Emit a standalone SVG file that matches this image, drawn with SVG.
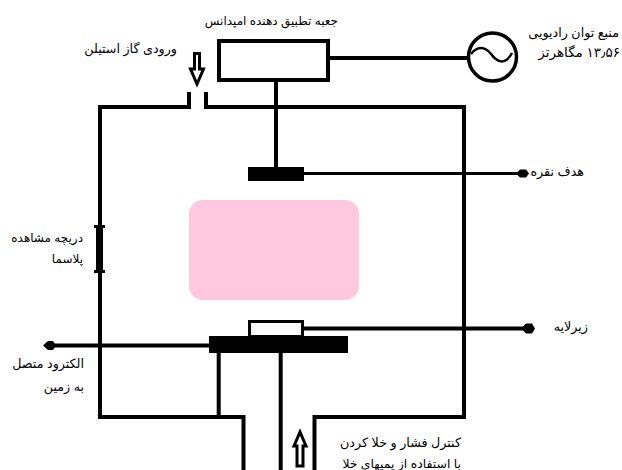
<svg xmlns="http://www.w3.org/2000/svg" width="622" height="470" viewBox="0 0 622 470">
<style>
.l{fill:none;stroke:#000;stroke-width:3}
.w{fill:none;stroke:#000;stroke-width:4}
.k{fill:#000;stroke:none}
text{font-family:"Liberation Sans","DejaVu Sans",sans-serif;font-size:12.700px;fill:#000;direction:rtl;text-anchor:start}
</style>
<rect width="622" height="470" fill="#fff"/>
<g id="plasma"><rect x="189" y="200" width="170" height="100" rx="14" fill="#ffc8dc"/></g>
<g id="connectors">
<path class="w" d="M189 92V107H100V417H243.500V470"/>
<path class="w" d="M206 92V107H464V417H314.500V470"/>
<path class="w" d="M330 58H468"/>
<path class="w" d="M276 80V167"/>
<path class="l" d="M304 173.500H518"/>
<path class="w" d="M303 328.500H524"/>
<path class="w" d="M50 345.500H209"/>
<path class="w" d="M218.700 353V417"/>
<path class="w" d="M280.700 353V470"/>
</g>
<g id="matching-box"><rect x="219" y="41" width="109" height="39" fill="#fff" stroke="#000" stroke-width="4"/><text x="338" y="25" style="font-size:12px">جعبه تطبیق دهنده امپدانس</text></g>
<g id="rf-source"><circle cx="492.500" cy="57" r="24" fill="#fff" stroke="#000" stroke-width="3.500"/><path d="M471 54C477 46 485 46 491 54S505 66 512 53" fill="none" stroke="#000" stroke-width="2.500"/><text x="619" y="37">منبع توان رادیویی</text><text x="620" y="57" style="font-size:13.500px">۱۳٫۵۶ مگاهرتز</text></g>
<g id="gas-inlet"><path d="M194.500 53.500H199.500V69H203.500L197 84L190.500 69H194.500Z" fill="#fff" stroke="#000" stroke-width="3"/><text x="177" y="53">ورودی گاز استیلن</text></g>
<g id="target"><rect class="k" x="248" y="167" width="56" height="14"/><path class="k" d="M516 173.500L520 169.500H526L529 173.500L526 177.500H520Z"/><text x="584" y="176">هدف نقره</text></g>
<g id="window"><path class="k" d="M94 225H105V228H103V270H105V273H94V270H96V228H94Z"/><text x="83" y="242" style="font-size:12px">دریچه مشاهده</text><text x="83" y="263" style="font-size:12px">پلاسما</text></g>
<g id="electrode"><rect class="k" x="209" y="336" width="139" height="17"/><path class="k" d="M43 345.500L48 341H53L56 345.500L53 350H48Z"/><text x="84" y="368">الکترود متصل</text><text x="84" y="391">به زمین</text></g>
<g id="substrate"><rect x="249.500" y="321.500" width="53" height="15" fill="#fff" stroke="#000" stroke-width="3"/><path class="k" d="M521 328.500L526 323.500H532L535 328.500L532 333.500H526Z"/><text x="588" y="331">زیرلایه</text></g>
<g id="vacuum"><path d="M297 466V446H294L300 432L306 446H303V466Z" fill="#fff" stroke="#000" stroke-width="3"/><text x="461" y="447">کنترل فشار و خلا کردن</text><text x="461" y="468" style="font-size:12.400px">با استفاده از پمپهای خلا</text></g>
</svg>
